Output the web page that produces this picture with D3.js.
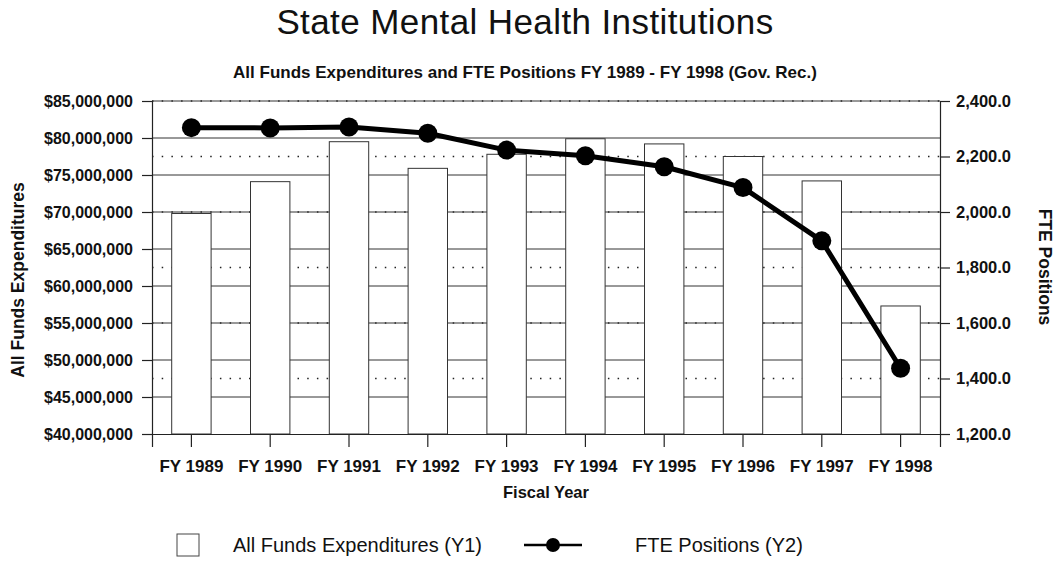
<!DOCTYPE html>
<html>
<head>
<meta charset="utf-8">
<script src="https://cdn.jsdelivr.net/npm/d3@7"></script>
<style>
  body { margin: 0; background: #fff; }
  text { font-family: Arial, "Liberation Sans", sans-serif; fill: #111; }
</style>
</head>
<body>
<svg id="chart"></svg>
<script>
// fiscal years on x axis
var years = ["FY 1989", "FY 1990", "FY 1991", "FY 1992", "FY 1993", "FY 1994", "FY 1995", "FY 1996", "FY 1997", "FY 1998"];
// All Funds Expenditures (Y1), dollars
var expenditures = [69800000, 74100000, 79500000, 75900000, 77800000, 79900000, 79200000, 77500000, 74200000, 57300000];
// FTE Positions (Y2)
var ftePositions = [2304, 2303, 2306, 2284, 2223, 2203, 2163, 2088, 1896, 1437];
// tick values
var y1Ticks = [40000000, 45000000, 50000000, 55000000, 60000000, 65000000, 70000000, 75000000, 80000000, 85000000];
var y2Ticks = [1200, 1400, 1600, 1800, 2000, 2200, 2400];

var W = 1055, H = 577;
var margin = {top: 101, right: 115, bottom: 143, left: 152}
  , width = W - margin.left - margin.right
  , height = H - margin.top - margin.bottom;

var svg = d3.select("#chart")
    .attr("width", W)
    .attr("height", H);

var x = d3.scaleBand()
    .domain(years)
    .range([0, width])
    .padding(0);

var y1 = d3.scaleLinear()
    .domain([40000000, 85000000])
    .range([height, 0]);

var y2 = d3.scaleLinear()
    .domain([1200, 2400])
    .range([height, 0]);

// title
svg.append("text")
    .attr("x", 525).attr("y", 34)
    .attr("text-anchor", "middle")
    .style("font-size", "35px")
    .style("letter-spacing", "0.4px")
    .text("State Mental Health Institutions");

svg.append("text")
    .attr("x", 525).attr("y", 78)
    .attr("text-anchor", "middle")
    .style("font-size", "17px")
    .style("font-weight", "bold")
    .text("All Funds Expenditures and FTE Positions FY 1989 - FY 1998 (Gov. Rec.)");

var g = svg.append("g").attr("transform", "translate(" + margin.left + "," + margin.top + ")");

// dotted gridlines from the right axis
g.selectAll(".grid2")
    .data(y2Ticks.filter(function (d) { return d > 1200; }))
    .enter().append("line")
    .attr("x1", 0).attr("x2", width)
    .attr("y1", function (d) { return y2(d); })
    .attr("y2", function (d) { return y2(d); })
    .attr("stroke", "#222")
    .attr("stroke-width", 1.5)
    .attr("stroke-dasharray", "1.5,8.2");

// solid gridlines from the left axis
g.selectAll(".grid1")
    .data(y1Ticks.filter(function (d) { return d > 40000000; }))
    .enter().append("line")
    .attr("x1", 0).attr("x2", width)
    .attr("y1", function (d) { return y1(d); })
    .attr("y2", function (d) { return y1(d); })
    .attr("stroke", "#333")
    .attr("stroke-width", 1);

// bars
var barW = x.bandwidth() * 0.5;
g.selectAll(".bar")
    .data(expenditures)
    .enter().append("rect")
    .attr("class", "bar")
    .attr("x", function (d, i) { return x(years[i]) + x.bandwidth() / 2 - barW / 2; })
    .attr("y", function (d) { return y1(d); })
    .attr("width", barW)
    .attr("height", function (d) { return height - y1(d); })
    .attr("fill", "#fff")
    .attr("stroke", "#333")
    .attr("stroke-width", 1);

// axes
var fmt1 = d3.format("$,");
var fmt2 = d3.format(",.1f");

var axL = g.append("g")
    .call(d3.axisLeft(y1).tickValues(y1Ticks).tickFormat(fmt1).tickSize(10).tickPadding(9));
var axR = g.append("g")
    .attr("transform", "translate(" + width + ",0)")
    .call(d3.axisRight(y2).tickValues(y2Ticks).tickFormat(fmt2).tickSize(10).tickPadding(6));
var axB = g.append("g")
    .attr("transform", "translate(0," + height + ")")
    .call(d3.axisBottom(x).tickSize(13).tickPadding(13));

[axL, axR, axB].forEach(function (a) {
    a.select(".domain").attr("stroke", "#222").attr("stroke-width", 1.2);
    a.selectAll(".tick line").attr("stroke", "#222").attr("stroke-width", 1.2);
    a.selectAll("text")
        .style("font-family", "Arial, 'Liberation Sans', sans-serif")
        .style("font-weight", "bold")
        .attr("fill", "#111");
});
axL.selectAll("text").style("font-size", "16px");
axR.selectAll("text").style("font-size", "16.5px");
axB.selectAll("text").style("font-size", "17px");

// FTE line
var line = d3.line()
    .x(function (d, i) { return x(years[i]) + x.bandwidth() / 2; })
    .y(function (d) { return y2(d); });

g.append("path")
    .datum(ftePositions)
    .attr("d", line)
    .attr("fill", "none")
    .attr("stroke", "#000")
    .attr("stroke-width", 5)
    .attr("stroke-linejoin", "round");

g.selectAll(".dot")
    .data(ftePositions)
    .enter().append("circle")
    .attr("cx", function (d, i) { return x(years[i]) + x.bandwidth() / 2; })
    .attr("cy", function (d) { return y2(d); })
    .attr("r", 9.5)
    .attr("fill", "#000");

// axis titles
svg.append("text")
    .attr("transform", "translate(24,280) rotate(-90)")
    .attr("text-anchor", "middle")
    .style("font-size", "17.5px")
    .style("font-weight", "bold")
    .text("All Funds Expenditures");

svg.append("text")
    .attr("transform", "translate(1039,267) rotate(90)")
    .attr("text-anchor", "middle")
    .style("font-size", "17.5px")
    .style("font-weight", "bold")
    .text("FTE Positions");

svg.append("text")
    .attr("x", margin.left + width / 2).attr("y", 498)
    .attr("text-anchor", "middle")
    .style("font-size", "16.5px")
    .style("font-weight", "bold")
    .text("Fiscal Year");

// legend
var leg = svg.append("g");
leg.append("rect")
    .attr("x", 177).attr("y", 534)
    .attr("width", 22).attr("height", 22)
    .attr("fill", "#fff").attr("stroke", "#444");
leg.append("text")
    .attr("x", 233).attr("y", 552)
    .style("font-size", "20px")
    .text("All Funds Expenditures (Y1)");
leg.append("line")
    .attr("x1", 524).attr("x2", 582)
    .attr("y1", 545).attr("y2", 545)
    .attr("stroke", "#000").attr("stroke-width", 2.5);
leg.append("circle")
    .attr("cx", 553).attr("cy", 545).attr("r", 7)
    .attr("fill", "#000");
leg.append("text")
    .attr("x", 635).attr("y", 552)
    .style("font-size", "20px")
    .text("FTE Positions (Y2)");
</script>
</body>
</html>
